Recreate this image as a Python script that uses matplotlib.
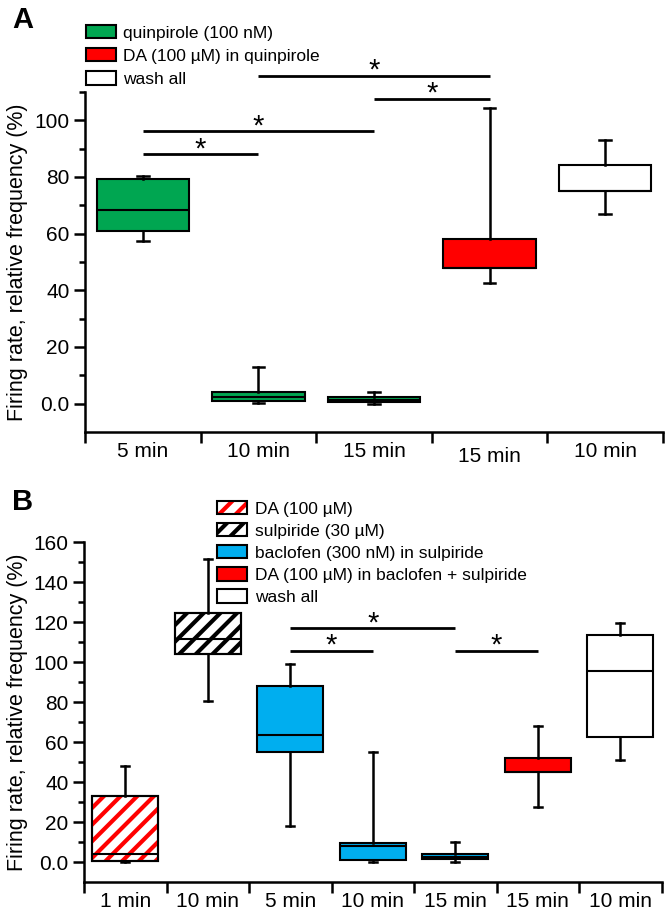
import numpy as np
import matplotlib
matplotlib.use('Agg')
import matplotlib.pyplot as plt
import matplotlib.transforms as mtransforms
from matplotlib.patches import Patch, Rectangle
from matplotlib.legend_handler import HandlerTuple

plt.rcParams['font.family'] = ['Liberation Sans', 'DejaVu Sans']
plt.rcParams['hatch.linewidth'] = 3.0

GREEN = '#00a651'
BLUE = '#00aeef'
RED = '#ff0000'

# Panel A
A_labels = ['5 min', '10 min', '15 min', '15 min', '10 min']
A_whislo = [57.5, 0.2, 0.0, 42.5, 67.0]
A_q1 = [61.0, 0.8, 0.6, 48.0, 75.0]
A_med = [68.3, 2.2, 1.2, 48.0, 75.0]
A_q3 = [79.2, 4.0, 2.2, 58.0, 84.2]
A_whishi = [80.5, 13.0, 4.0, 104.5, 93.0]
A_fill = [GREEN, GREEN, GREEN, RED, 'white']
A_sig = [(2, 4, 115.8), (3, 4, 107.7), (1, 3, 96.1), (1, 2, 88.0)]
A_legend = ['quinpirole (100 nM)', 'DA (100 µM) in quinpirole', 'wash all']

# Panel B
B_labels = ['1 min', '10 min', '5 min', '10 min', '15 min', '15 min', '10 min']
B_whislo = [0.2, 80.7, 18.0, 0.2, 0.0, 27.7, 51.0]
B_q1 = [0.5, 104.0, 54.8, 1.0, 1.3, 45.2, 62.7]
B_med = [3.8, 111.3, 63.5, 8.2, 2.5, 45.2, 95.5]
B_q3 = [33.0, 124.7, 88.2, 9.7, 3.8, 52.2, 113.5]
B_whishi = [48.0, 151.3, 98.8, 54.8, 9.8, 68.0, 119.3]
B_fill = ['white', 'white', BLUE, BLUE, BLUE, RED, 'white']
B_hatch = [RED, 'black', None, None, None, None, None]
B_sig = [(3, 5, 116.8), (3, 4, 105.5), (5, 6, 105.5)]
B_legend = ['DA (100 µM)', 'sulpiride (30 µM)', 'baclofen (300 nM) in sulpiride',
            'DA (100 µM) in baclofen + sulpiride', 'wash all']


def draw_panel(ax, labels, whislo, q1, med, q3, whishi, fills, hatches, sig, ylim, lower_label=None):
    n = len(labels)
    pos = np.arange(1, n + 1)
    stats = [dict(whislo=whislo[i], q1=q1[i], med=med[i], q3=q3[i], whishi=whishi[i], fliers=[])
             for i in range(n)]
    bp = ax.bxp(stats, positions=pos, widths=0.8, capwidths=0.1, patch_artist=True,
                showfliers=False,
                boxprops=dict(linewidth=1.5, edgecolor='black'),
                medianprops=dict(color='black', linewidth=1.5, zorder=4),
                whiskerprops=dict(color='black', linewidth=1.8),
                capprops=dict(color='black', linewidth=1.8))
    for i, box in enumerate(bp['boxes']):
        box.set_facecolor(fills[i])
        if hatches[i] is not None:
            ax.add_patch(Rectangle((pos[i] - 0.4, q1[i]), 0.8, q3[i] - q1[i], fill=False,
                                   hatch='//', edgecolor=hatches[i], linewidth=0, zorder=3))
            ax.add_patch(Rectangle((pos[i] - 0.4, q1[i]), 0.8, q3[i] - q1[i], fill=False,
                                   edgecolor='black', linewidth=1.5, zorder=5))

    for a, b, h in sig:
        ax.plot([a, b], [h, h], color='black', lw=2, solid_capstyle='butt', clip_on=False)
        ax.annotate('*', ((a + b) / 2, h), xytext=(0, -2), textcoords='offset points',
                    ha='center', va='baseline', fontsize=21, annotation_clip=False)

    ax.set_xlim(0.5, n + 0.5)
    ax.set_ylim(*ylim)
    ax.spines['top'].set_visible(False)
    ax.spines['right'].set_visible(False)
    ax.spines['left'].set_linewidth(1.8)
    ax.spines['bottom'].set_linewidth(1.8)

    ax.set_xticks(np.arange(0.5, n + 1), [''] * (n + 1))
    ax.set_xticks(pos, labels, minor=True)
    ax.tick_params(axis='x', which='major', length=8, width=1.8, direction='out')
    ax.tick_params(axis='x', which='minor', length=0, pad=7, labelsize=15)

    ax.set_yticks(np.arange(0, ylim[1] + 1, 20))
    ax.set_yticks(np.arange(10, ylim[1] + 1, 20), minor=True)
    ax.yaxis.set_major_formatter(lambda v, p: '0.0' if v == 0 else f'{v:g}')
    ax.tick_params(axis='y', which='major', length=8, width=1.8, pad=3, labelsize=15)
    ax.tick_params(axis='y', which='minor', length=4, width=1.8)
    ax.set_ylabel('Firing rate, relative frequency (%)', fontsize=15.5)

    if lower_label is not None:
        lab = ax.get_xticklabels(minor=True)[lower_label]
        lab.set_transform(lab.get_transform() +
                          mtransforms.ScaledTranslation(0, -3.5 / 72, ax.figure.dpi_scale_trans))


fig = plt.figure(figsize=(6.65, 9.17), dpi=100)
W, H = 665, 917
axA = fig.add_axes([85 / W, 1 - 432 / H, 578 / W, 340 / H])
axB = fig.add_axes([84 / W, 1 - 882 / H, 577.5 / W, 340 / H])

draw_panel(axA, A_labels, A_whislo, A_q1, A_med, A_q3, A_whishi, A_fill,
           [None] * 5, A_sig, (-10, 110), lower_label=3)
draw_panel(axB, B_labels, B_whislo, B_q1, B_med, B_q3, B_whishi, B_fill,
           B_hatch, B_sig, (-10, 160))
axA.yaxis.set_label_coords((28 - 85) / 578, 0.5)
axB.yaxis.set_label_coords((28 - 84) / 577.5, 0.5)

fig.text(12 / W, 1 - 20 / H, 'A', fontsize=21, fontweight='bold', va='center')
fig.text(12 / W, 1 - 502 / H, 'B', fontsize=21, fontweight='bold', va='center')

# legends
hA = [Patch(facecolor=c, edgecolor='black', linewidth=1.5) for c in [GREEN, RED, 'white']]
fig.legend(hA, A_legend, loc='upper left', bbox_to_anchor=(86 / W, 1 - 25 / H),
           frameon=False, fontsize=12.5, borderpad=0, borderaxespad=0,
           handlelength=1.75, handleheight=0.8, handletextpad=0.4, labelspacing=0.43)

hB = [(Patch(facecolor='white', edgecolor=RED, hatch='//', linewidth=0),
       Patch(fill=False, edgecolor='black', linewidth=1.5)),
      (Patch(facecolor='white', edgecolor='black', hatch='//', linewidth=0),
       Patch(fill=False, edgecolor='black', linewidth=1.5)),
      Patch(facecolor=BLUE, edgecolor='black', linewidth=1.5),
      Patch(facecolor=RED, edgecolor='black', linewidth=1.5),
      Patch(facecolor='white', edgecolor='black', linewidth=1.5)]
fig.legend(hB, B_legend, loc='upper left', bbox_to_anchor=(217 / W, 1 - 501 / H),
           frameon=False, fontsize=12.5, borderpad=0, borderaxespad=0,
           handlelength=1.75, handleheight=0.8, handletextpad=0.45, labelspacing=0.37,
           handler_map={tuple: HandlerTuple(ndivide=1)})

fig.savefig('out.png', dpi=100)
